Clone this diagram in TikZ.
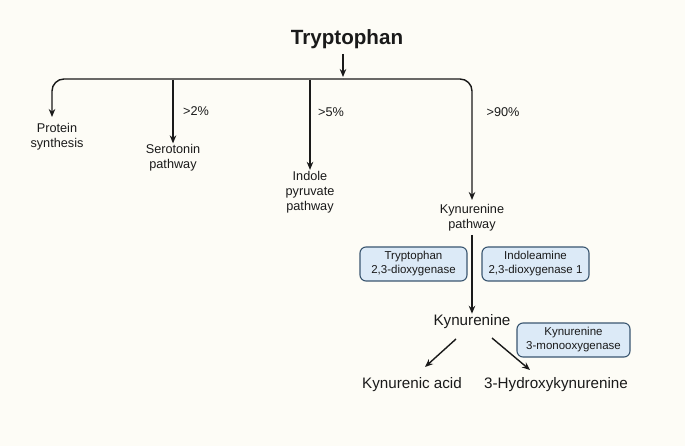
\documentclass[tikz,border=0pt]{standalone}
\usepackage{fontspec}
\setmainfont{Liberation Sans}
\usetikzlibrary{arrows.meta}
\definecolor{bgc}{HTML}{FDFCF6}
\definecolor{boxfill}{HTML}{DCEAF7}
\definecolor{boxdraw}{HTML}{3A5670}
\definecolor{ink}{HTML}{1A1A1A}
\begin{document}
\begin{tikzpicture}[x=1pt,y=-1pt,
  conn/.style={draw=ink,line width=1.4pt,-{Stealth[length=8pt,width=6.5pt]}},
  lbl/.style={font=\fontsize{12.7}{15}\selectfont,text=ink,align=center,inner sep=1pt},
  pct/.style={font=\fontsize{12.7}{15}\selectfont,text=ink,inner sep=1pt},
  big/.style={font=\fontsize{15.2}{18}\selectfont,text=ink,inner sep=1pt},
  enz/.style={draw=boxdraw,fill=boxfill,line width=1.1pt,rounded corners=6pt,
    minimum width=107pt,minimum height=34pt,align=center,
    font=\fontsize{11.5}{14}\selectfont,text=ink,inner sep=1pt}]
\fill[bgc] (0,0) rectangle (685,446);
\useasboundingbox (0,0) rectangle (685,446);
\node[font=\bfseries\fontsize{20.6}{24}\selectfont,text=ink] (trp) at (347,39) {Tryptophan};
\coordinate (tA) at (343,54);
\coordinate (tB) at (343,77);
\draw[conn] (tA) -- (tB);
\coordinate (mid) at (343,79);
\coordinate (pa) at (52,117);
\coordinate (ka0) at (472,200);
\node[lbl] (prot) at (57,137) {Protein\\synthesis};
\node[lbl] (sero) at (173,158) {Serotonin\\pathway};
\node[lbl] (indo) at (310,192) {Indole\\pyruvate\\pathway};
\node[lbl] (kynp) at (472,218) {Kynurenine\\pathway};
\draw[conn,rounded corners=12pt] (mid) -| (pa);
\draw[conn,rounded corners=12pt] (mid) -| (ka0);
\coordinate (s0) at (173,80);
\coordinate (i0) at (310,80);
\draw[conn] (s0) -- (sero.north);
\draw[conn] (i0) -- (indo.north);
\node[pct] (p2) at (196,111) {>2\%};
\node[pct] (p5) at (331,112) {>5\%};
\node[pct] (p90) at (503,112) {>90\%};
\node[enz] (tdo) at (413.5,264) {Tryptophan\\2,3-dioxygenase};
\node[enz] (ido) at (535.5,264) {Indoleamine\\2,3-dioxygenase 1};
\node[big] (kyn) at (472,322) {Kynurenine};
\coordinate (ks) at (472,235);
\draw[conn] (ks) -- (kyn.north);
\node[enz,minimum width=113pt] (kmo) at (573.5,340) {Kynurenine\\3-monooxygenase};
\node[big] (ka) at (412,385) {Kynurenic acid};
\node[big] (hk) at (556,385) {3-Hydroxykynurenine};
\coordinate (k1) at (456,339);
\coordinate (k2) at (425,367);
\coordinate (k3) at (492,338);
\coordinate (k4) at (530,370);
\draw[conn] (k1) -- (k2);
\draw[conn] (k3) -- (k4);
\end{tikzpicture}
\end{document}
